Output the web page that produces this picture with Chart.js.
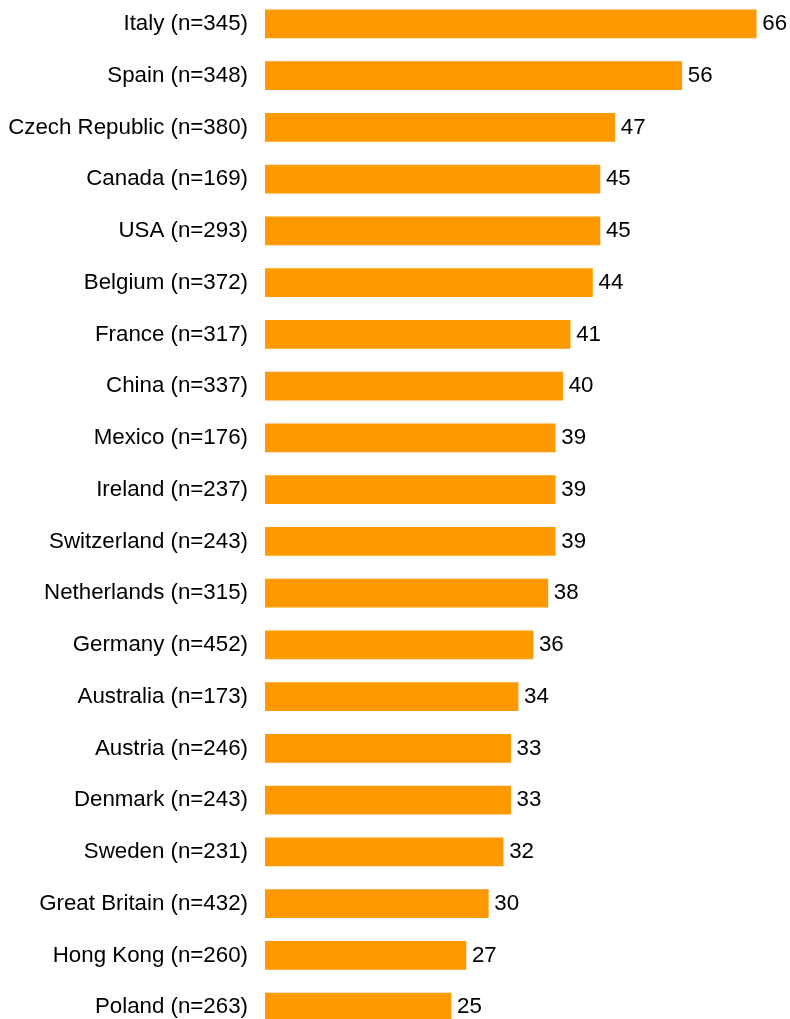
<!DOCTYPE html>
<html>
<head>
<meta charset="utf-8">
<script src="https://cdn.jsdelivr.net/npm/chart.js@4"></script>
<style>
  html, body { margin: 0; padding: 0; background: #fff; overflow: hidden; width: 790px; height: 1019px; }
  #wrap { position: absolute; left: 0; top: -2px; width: 790px; height: 1035px; }
</style>
</head>
<body>
<div id="wrap"><canvas id="c"></canvas></div>
<script>
const categories = [
  "Italy (n=345)", "Spain (n=348)", "Czech Republic (n=380)", "Canada (n=169)",
  "USA (n=293)", "Belgium (n=372)", "France (n=317)", "China (n=337)",
  "Mexico (n=176)", "Ireland (n=237)", "Switzerland (n=243)", "Netherlands (n=315)",
  "Germany (n=452)", "Australia (n=173)", "Austria (n=246)", "Denmark (n=243)",
  "Sweden (n=231)", "Great Britain (n=432)", "Hong Kong (n=260)", "Poland (n=263)"
];
const values = [66, 56, 47, 45, 45, 44, 41, 40, 39, 39, 39, 38, 36, 34, 33, 33, 32, 30, 27, 25];

const FONT = '"Liberation Sans", Arial, Helvetica, sans-serif';
const FONT_SIZE = 22.3;

const valueLabels = {
  id: 'valueLabels',
  afterDatasetsDraw(chart) {
    const ctx = chart.ctx;
    const meta = chart.getDatasetMeta(0);
    ctx.save();
    ctx.font = FONT_SIZE + 'px ' + FONT;
    ctx.fillStyle = '#000';
    ctx.textAlign = 'left';
    ctx.textBaseline = 'middle';
    meta.data.forEach((bar, i) => {
      ctx.fillText(String(chart.data.datasets[0].data[i]), bar.x + 6, bar.y);
    });
    ctx.restore();
  }
};

new Chart(document.getElementById('c'), {
  type: 'bar',
  data: {
    labels: categories,
    datasets: [{
      data: values,
      backgroundColor: '#FF9900',
      borderWidth: 0,
      barThickness: 28
    }]
  },
  options: {
    indexAxis: 'y',
    responsive: true,
    maintainAspectRatio: false,
    animation: false,
    layout: { padding: { top: 0, bottom: 0, left: 0, right: 4 } },
    plugins: {
      legend: { display: false },
      tooltip: { enabled: false },
      title: { display: false }
    },
    scales: {
      x: {
        display: false,
        min: 0,
        max: 70
      },
      y: {
        afterFit(scale) {
          scale.width = 265;
          scale.paddingTop = 0;
          scale.paddingBottom = 0;
        },
        grid: { display: false, drawTicks: false },
        border: { display: false },
        ticks: {
          autoSkip: false,
          padding: 17,
          color: '#000',
          font: { family: FONT, size: FONT_SIZE }
        }
      }
    }
  },
  plugins: [valueLabels]
});
</script>
</body>
</html>
